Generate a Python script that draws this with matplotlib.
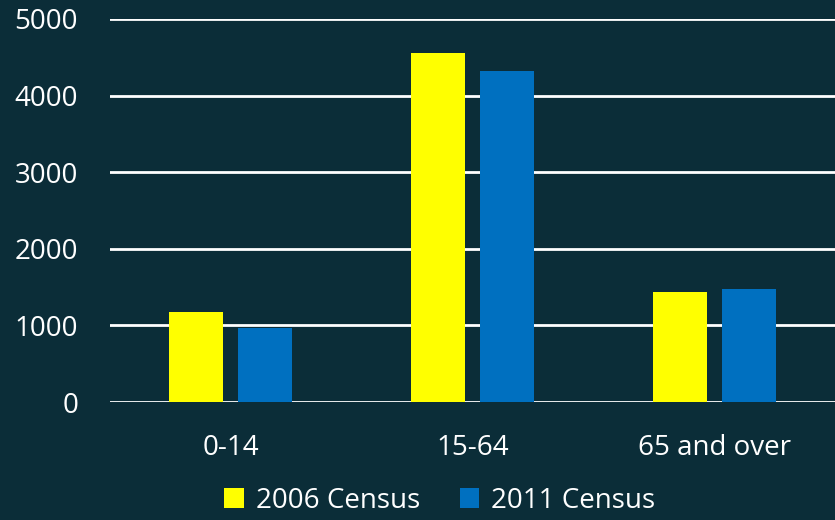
import numpy as np
import matplotlib
matplotlib.use('Agg')
import matplotlib.pyplot as plt

# age groups and population counts
age_groups = ['0-14', '15-64', '65 and over']
census_2006 = [1170, 4550, 1440]
census_2011 = [970, 4320, 1475]
series_labels = ['2006 Census', '2011 Census']
y_ticks = [0, 1000, 2000, 3000, 4000, 5000]

bg = '#0b2d38'
plt.rcParams['font.family'] = ['Open Sans', 'DejaVu Sans']

fig = plt.figure(figsize=(8.35, 5.2), dpi=100, facecolor=bg)
ax = fig.add_axes([0.1317, 0.2269, 0.8683, 0.7366], facecolor=bg)

x = np.arange(len(age_groups))
w = 0.223
off = 0.1426
ax.bar(x - off, census_2006, w, color='#ffff00', label=series_labels[0], zorder=3)
ax.bar(x + off, census_2011, w, color='#0070c0', label=series_labels[1], zorder=3)

ax.set_xlim(-0.5, 2.5)
ax.set_ylim(0, 5000)
ax.set_yticks(y_ticks)
ax.set_xticks(x)
ax.set_xticklabels(age_groups)
ax.yaxis.grid(True, color='white', linewidth=2, zorder=0)
ax.set_axisbelow(True)
for s in ax.spines.values():
    s.set_visible(False)
ax.tick_params(axis='both', length=0, colors='white', labelsize=20)
ax.tick_params(axis='y', pad=23)
ax.tick_params(axis='x', pad=23)

leg = fig.legend(loc='lower center', bbox_to_anchor=(0.527, -0.038), ncol=2,
                 frameon=False, fontsize=20, labelcolor='white',
                 handlelength=0.7, handleheight=0.7, handletextpad=0.45,
                 columnspacing=1.4)

fig.savefig('out.png', dpi=100, facecolor=bg)
